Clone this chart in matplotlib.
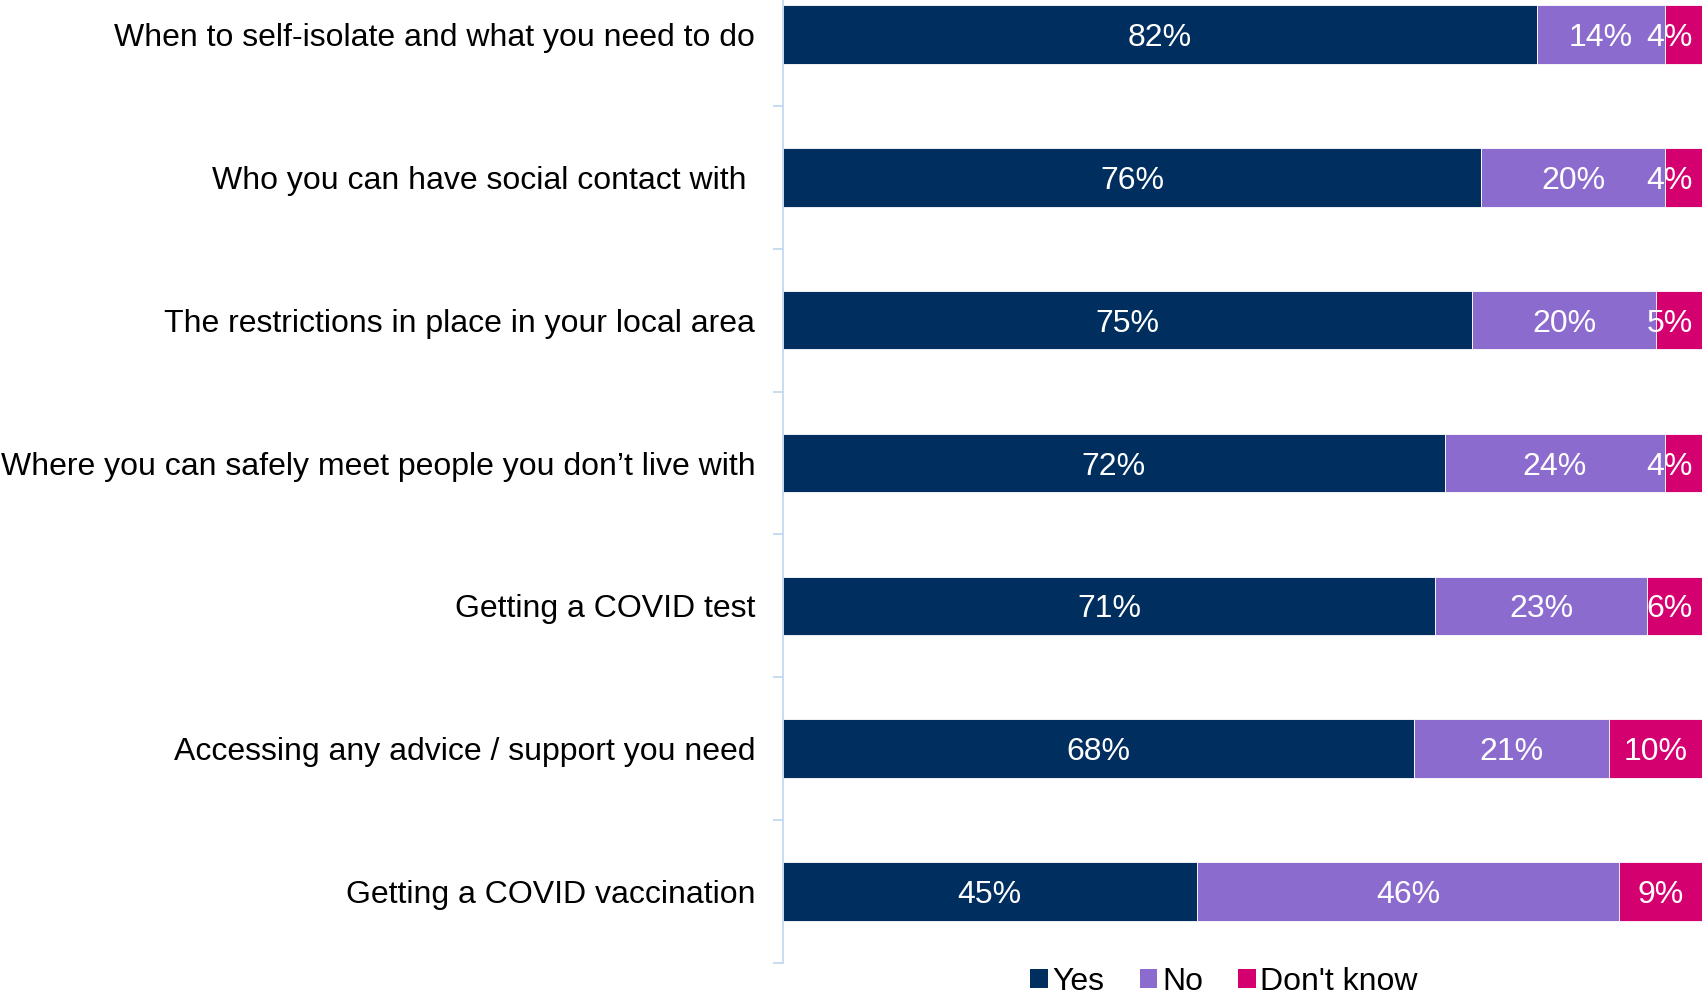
import matplotlib.pyplot as plt
from matplotlib.patches import Patch
import numpy as np

plt.rcParams['font.family'] = ['Liberation Sans', 'DejaVu Sans']

questions = [
    'When to self-isolate and what you need to do',
    'Who you can have social contact with ',
    'The restrictions in place in your local area',
    'Where you can safely meet people you don\u2019t live with',
    'Getting a COVID test',
    'Accessing any advice / support you need',
    'Getting a COVID vaccination',
]
yes = [82, 76, 75, 72, 71, 68, 45]
no = [14, 20, 20, 24, 23, 21, 46]
dont_know = [4, 4, 5, 4, 6, 10, 9]

series_names = ['Yes', 'No', "Don't know"]
colours = ['#002F5F', '#8C6BCF', '#D4006F']
FS = 23

fig = plt.figure(figsize=(17.04, 9.94), dpi=100)
# plot area runs a little past the top edge of the figure
ax = fig.add_axes([783 / 1704, 31 / 994, 919 / 1704, 1000 / 994])

# 100% stacked: each row is scaled by its own total
data = np.array([yes, no, dont_know], dtype=float)
shares = data / data.sum(axis=0) * 100

y = np.arange(len(questions))
left = np.zeros(len(questions))
labels = []
for vals, shr, col in zip(data, shares, colours):
    ax.barh(y, shr, left=left, height=0.41, color=col, edgecolor='white', linewidth=0.6)
    for yi, l, s, v in zip(y, left, shr, vals):
        t = ax.text(l + s / 2, yi, f'{int(v)}%', ha='center', va='center_baseline',
                    color='white', fontsize=FS)
        labels.append(t)
    left += shr

ax.set_xlim(0, 100)
ax.set_ylim(len(questions) - 0.5, -0.5)

ax.set_yticks(y)
ax.set_yticklabels(questions, fontsize=FS)
ax.tick_params(axis='y', which='major', length=0, pad=20)
ax.set_yticks(np.arange(len(questions)) + 0.5, minor=True)
ax.tick_params(axis='y', which='minor', length=7.5, color='#BDD7EE', width=1.2)
ax.set_xticks([])

for s in ['top', 'right', 'bottom']:
    ax.spines[s].set_visible(False)
ax.spines['left'].set_color('#BDD7EE')
ax.spines['left'].set_linewidth(1.2)

# keep data labels inside the plot area on the right
fig.canvas.draw()
renderer = fig.canvas.get_renderer()
ax_right = ax.get_window_extent(renderer).x1
inv = ax.transData.inverted()
for t in labels:
    bb = t.get_window_extent(renderer)
    limit = ax_right - 9
    if bb.x1 > limit:
        shift = bb.x1 - limit
        x0 = inv.transform((0, 0))[0]
        x1 = inv.transform((shift, 0))[0]
        t.set_x(t.get_position()[0] - (x1 - x0))

handles = [Patch(facecolor=c, edgecolor='none') for c in colours]
fig.legend(handles, series_names, loc='center', bbox_to_anchor=(1224 / 1704, 1 - 982 / 994),
           ncol=3, frameon=False, fontsize=FS, handlelength=0.55, handleheight=0.55,
           handletextpad=0.15, columnspacing=1.1, borderpad=0)

fig.savefig('out.png', dpi=100)
